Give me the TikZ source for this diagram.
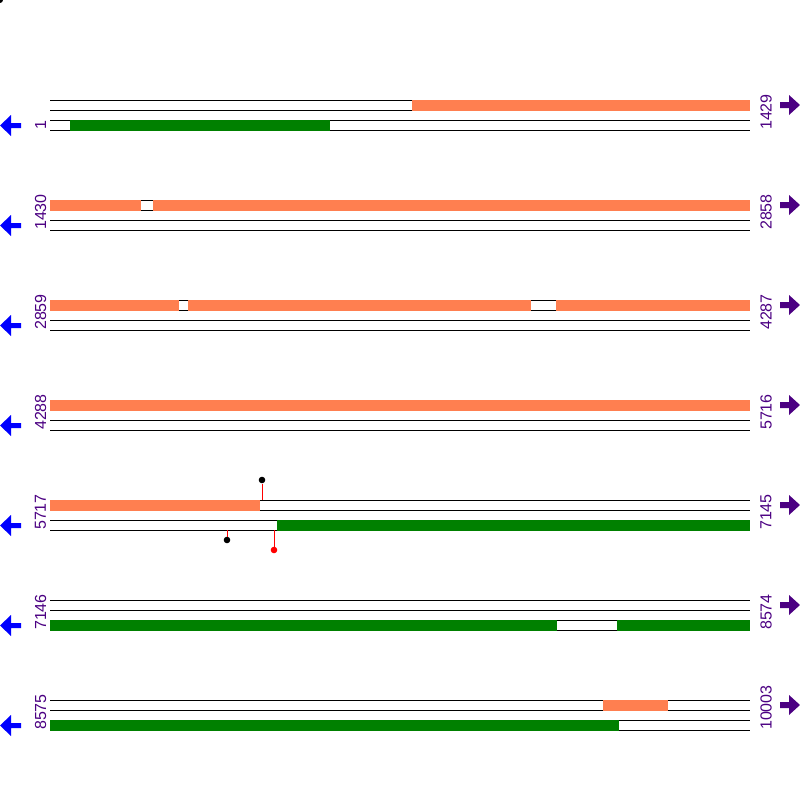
\documentclass[tikz,border=0pt]{standalone}
\usepackage{fontspec}
\setmainfont{Liberation Sans}
\usepackage{xcolor}
\usepackage{tikz}

\definecolor{orfcoral}{HTML}{FF7F50}
\definecolor{orfgreen}{HTML}{008000}
\definecolor{posindigo}{HTML}{4B0082}

\tikzset{
  frameline/.style={black, line width=1pt},
  fwdorf/.style={fill=orfcoral},
  revorf/.style={fill=orfgreen},
  posnum/.style={rotate=90, anchor=west, inner sep=0pt, text=posindigo,
    font=\fontsize{16}{16}\selectfont},
  snpstem/.style={red, line width=1pt},
  snpdot/.style={circle, inner sep=0pt, minimum size=6.6pt},
  leftarr/.pic={\fill[blue] (0,0) -- (11,-10.5) -- (11,-2.5) -- (21,-2.5)
    -- (21,2.5) -- (11,2.5) -- (11,10.5) -- cycle;},
  rightarr/.pic={\fill[posindigo] (0,0) -- (-11,-10) -- (-11,-3) -- (-20,-3)
    -- (-20,3) -- (-11,3) -- (-11,10) -- cycle;}
}

\begin{document}
\begin{tikzpicture}[x=1pt, y=-1pt]

  \useasboundingbox (0,0) rectangle (800,800);
  \fill (0,0) circle (3);

  % Frame lines, positions and strand arrows

  \foreach \r/\lo/\hi in {0/1/1429, 1/1430/2858, 2/2859/4287, 3/4288/5716,
                          4/5717/7145, 5/7146/8574, 6/8575/10003} {
    \foreach \k in {0,10,20,30}
      \draw[frameline] (50,100*\r+100+\k) -- (750,100*\r+100+\k);
    \node[posnum] (lo\r) at (40.5,100*\r+130) {\lo};
    \node[posnum] (hi\r) at (766,100*\r+130) {\hi};
    \pic at (0,100*\r+125.5) {leftarr};
    \pic at (800,100*\r+105) {rightarr};
  }

	% ORFs, upper frame
  \foreach \r/\a/\b in {0/412/750, 1/50/141, 1/153/750, 2/50/179, 2/188/531,
                        2/556/750, 3/50/750, 4/50/260, 6/603/668}
    \fill[fwdorf] (\a,100*\r+99.5) rectangle (\b,100*\r+110.5);

	% ORFs, lower frame
  \foreach \r/\a/\b in {0/70/330, 4/277/750, 5/50/557, 5/617/750, 6/50/619}
    \fill[revorf] (\a,100*\r+119.5) rectangle (\b,100*\r+130.5);

  % Sites
  \node[snpdot, fill=black] (snpa) at (262,480) {};
  \node[snpdot, fill=black] (snpb) at (227,540) {};
  \node[snpdot, fill=red]   (snpc) at (274,550) {};
  \coordinate (basea) at (262,500);
  \coordinate (baseb) at (227,530);
  \coordinate (basec) at (274,530);
  \draw[snpstem] (snpa) -- (basea);
  \draw[snpstem] (snpb) -- (baseb);
  \draw[snpstem] (snpc) -- (basec);

\end{tikzpicture}
\end{document}
